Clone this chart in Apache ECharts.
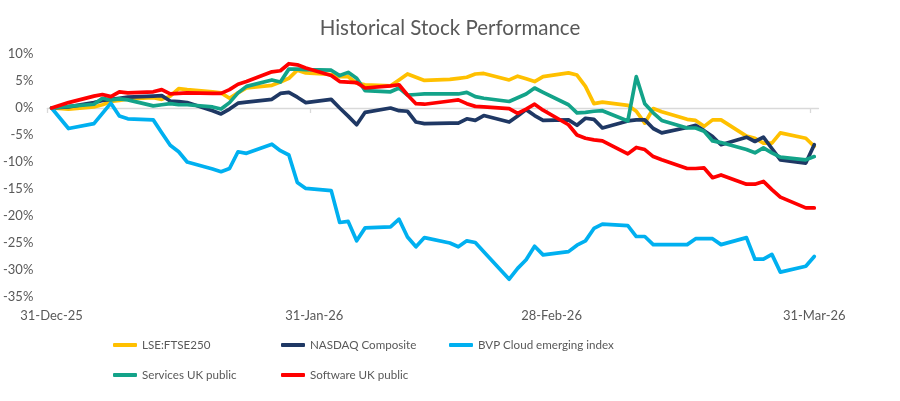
<!DOCTYPE html>
<html>
<head>
<meta charset="utf-8">
<script src="https://cdn.jsdelivr.net/npm/echarts@6/dist/echarts.min.js"></script>
<style>
html,body{margin:0;padding:0;background:#fff;}
#chart{width:900px;height:401px;}
</style>
</head>
<body>
<div id="chart"></div>
<script>
// ---- data ----
const dates = ['2025-12-31',
 '2026-01-02','2026-01-05','2026-01-06','2026-01-07','2026-01-08','2026-01-09','2026-01-12','2026-01-13','2026-01-14','2026-01-15','2026-01-16','2026-01-19','2026-01-20','2026-01-21','2026-01-22','2026-01-23','2026-01-26','2026-01-27','2026-01-28','2026-01-29','2026-01-30',
 '2026-02-02','2026-02-03','2026-02-04','2026-02-05','2026-02-06','2026-02-09','2026-02-10','2026-02-11','2026-02-12','2026-02-13','2026-02-16','2026-02-17','2026-02-18','2026-02-19','2026-02-20','2026-02-23','2026-02-24','2026-02-25','2026-02-26','2026-02-27',
 '2026-03-02','2026-03-03','2026-03-04','2026-03-05','2026-03-06','2026-03-09','2026-03-10','2026-03-11','2026-03-12','2026-03-13','2026-03-16','2026-03-17','2026-03-18','2026-03-19','2026-03-20','2026-03-23','2026-03-24','2026-03-25','2026-03-26','2026-03-27','2026-03-30','2026-03-31'];

const ftse250 = [0,-0.2,0.2,0.6,1.2,1.4,1.7,1.9,1.6,2.2,3.6,3.4,3.0,2.8,1.8,2.8,3.7,4.2,4.8,5.5,7.0,6.5,
 6.2,5.8,5.8,4.6,4.3,4.1,5.2,6.3,5.7,5.1,5.3,5.5,5.7,6.3,6.4,5.2,5.9,5.4,4.9,5.8,
 6.5,6.1,4.0,0.8,1.1,0.5,-0.6,-2.8,-0.1,-0.7,-2.1,-2.3,-3.4,-2.2,-2.2,-5.2,-5.6,-6.5,-6.5,-4.6,-5.6,-7.1];

const nasdaq = [0,0.2,1.0,1.4,1.6,1.8,2.0,2.2,2.3,1.3,1.2,1.0,-0.5,-1.1,-0.2,0.9,1.1,1.6,2.7,2.9,2.0,1.0,
 1.6,0.0,-1.5,-3.1,-0.8,0.0,-0.5,-0.6,-2.6,-2.9,-2.8,-2.8,-2.0,-2.3,-1.4,-2.6,-1.5,-0.3,-1.4,-2.3,
 -2.2,-3.2,-1.9,-2.1,-3.7,-2.4,-2.2,-2.2,-3.8,-4.6,-3.6,-3.2,-4.2,-5.3,-6.8,-5.4,-6.2,-5.4,-7.5,-9.6,-10.2,-6.8];

const bvpCloud = [0,-3.8,-2.9,-1.0,0.9,-1.5,-2.0,-2.2,-4.6,-6.9,-8.1,-10.0,-11.3,-11.8,-11.2,-8.1,-8.4,-6.7,-7.9,-8.7,-13.8,-14.9,
 -15.3,-21.2,-21.0,-24.6,-22.2,-22.0,-20.6,-23.9,-25.7,-24.0,-25.0,-25.7,-24.6,-24.9,-26.6,-31.7,-29.7,-28.1,-25.6,-27.2,
 -26.6,-25.4,-24.6,-22.3,-21.5,-21.8,-23.8,-23.8,-25.3,-25.3,-25.3,-24.2,-24.2,-24.2,-25.3,-24.0,-28.0,-28.0,-27.1,-30.4,-29.3,-27.5];

const servicesUK = [0,0.3,0.7,1.8,1.5,1.7,1.5,0.4,0.6,0.8,0.6,0.6,0.2,-0.2,1.0,2.8,4.0,5.2,4.8,7.2,7.2,7.1,
 7.0,6.0,6.6,5.5,3.2,3.0,3.7,2.4,2.5,2.6,2.6,2.6,2.9,2.1,1.8,1.2,1.9,2.6,3.7,2.9,
 0.6,-0.9,-0.8,-0.6,-0.5,-2.4,5.8,0.8,-0.9,-2.3,-3.7,-3.7,-4.3,-6.1,-6.4,-7.7,-8.3,-7.4,-8.3,-9.1,-9.6,-9.0];

const softwareUK = [0,1.0,2.2,2.5,2.1,3.0,2.8,3.0,3.4,2.6,2.7,2.8,2.7,2.7,3.4,4.4,4.9,6.7,6.9,8.2,8.0,7.4,
 6.0,4.9,4.8,4.7,3.7,4.1,4.3,2.4,0.8,0.7,1.3,1.5,0.8,0.3,0.2,-0.1,-1.0,-0.2,0.7,-0.4,
 -3.1,-5.0,-5.6,-5.9,-6.1,-8.5,-7.3,-7.7,-9.0,-9.6,-11.2,-11.2,-11.1,-12.9,-12.4,-14.1,-14.1,-13.6,-15.1,-16.5,-18.5,-18.5];

const seriesNames = ['LSE:FTSE250','NASDAQ Composite','BVP Cloud emerging index','Services UK public','Software UK public'];
const tickDates = ['2025-12-31','2026-01-31','2026-02-28','2026-03-31'];
const tickLabels = ['31-Dec-25','31-Jan-26','28-Feb-26','31-Mar-26'];
const yTickValues = [10,5,0,-5,-10,-15,-20,-25,-30,-35];

// ---- styling / layout ----
const colors = ['#FFC000','#1F3864','#00B0F0','#13A389','#FF0000'];
const legendLeft = [113,281,449,113,281];
const legendTop = [339,339,339,369,369];
const FONT = 'Lato';
const TXT = '#595959';

const base = Date.UTC(2025,11,31);
function dayOf(s){const p=s.split('-').map(Number);return (Date.UTC(p[0],p[1]-1,p[2])-base)/86400000;}
const xs = dates.map(d=>dayOf(d)+0.5);
const tickDays = tickDates.map(dayOf);
const labelDays = tickDays.map(d=>d+0.5);
const allSeries = [ftse250,nasdaq,bvpCloud,servicesUK,softwareUK];

const chart = echarts.init(document.getElementById('chart'), null, {renderer:'canvas'});
const option = {
  animation:false,
  backgroundColor:'#fff',
  title:{text:'Historical Stock Performance',left:'center',top:13,
    textStyle:{fontFamily:FONT,fontSize:20.5,fontWeight:'normal',color:TXT}},
  grid:{left:47,right:81.5,top:54,bottom:104,containLabel:false},
  xAxis:[
    {type:'value',min:0,max:91,position:'bottom',
     axisLine:{show:false,onZero:false},axisTick:{show:false},splitLine:{show:false},
     axisLabel:{customValues:labelDays,
       formatter:function(v){const i=labelDays.findIndex(d=>Math.abs(d-v)<0.01);return i>=0?tickLabels[i]:'';},
       color:TXT,fontSize:13,fontFamily:FONT,margin:12}},
    {type:'value',min:0,max:91,position:'top',
     axisLine:{show:true,onZero:true,lineStyle:{color:'#d9d9d9',width:1.3}},
     axisTick:{show:true,inside:true,customValues:tickDays,length:5,lineStyle:{color:'#d9d9d9',width:1.3}},
     axisLabel:{show:false},splitLine:{show:false}}
  ],
  yAxis:{type:'value',min:-35,max:10,interval:5,
    axisLine:{show:false},axisTick:{show:false},splitLine:{show:false},
    axisLabel:{customValues:yTickValues,formatter:'{value}%',color:TXT,fontSize:13,fontFamily:FONT,margin:14}},
  legend: seriesNames.map((n,i)=>({data:[n],left:legendLeft[i],top:legendTop[i],padding:0,
    icon:'roundRect',itemWidth:24,itemHeight:4,selectedMode:false,
    textStyle:{color:TXT,fontSize:11.6,fontFamily:FONT}})),
  series: seriesNames.map((n,i)=>({
    name:n,type:'line',xAxisIndex:0,yAxisIndex:0,
    data: allSeries[i].map((v,j)=>[xs[j],v]),
    symbol:'none',smooth:false,
    lineStyle:{color:colors[i],width:3.7,cap:'round',join:'round'},
    itemStyle:{color:colors[i]},
    z:2+i
  }))
};
chart.setOption(option);
</script>
</body>
</html>
